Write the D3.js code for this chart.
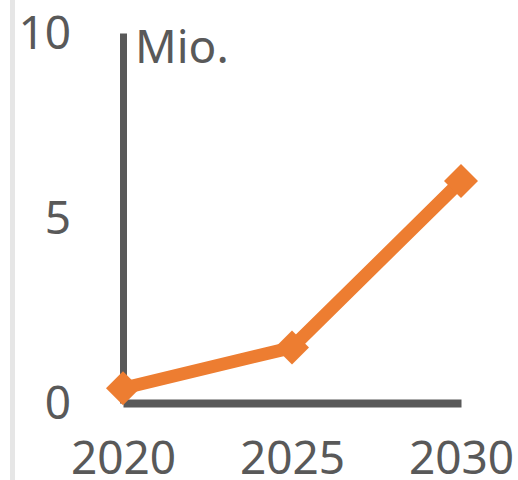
<!DOCTYPE html>
<html>
<head>
<meta charset="utf-8">
<script src="https://cdn.jsdelivr.net/npm/d3@7"></script>
<style>
  html, body { margin: 0; padding: 0; background: #ffffff; }
  svg { display: block; }
  text { font-family: "Noto Sans", sans-serif; }
</style>
</head>
<body>
<svg id="chart" width="518" height="480"></svg>
<script>
// Projected volume, in millions
const years = [2020, 2025, 2030];
const values = [0.4, 1.5, 6.0];
const yTicks = [0, 5, 10];
const unitLabel = "Mio.";

const svg = d3.select("#chart");
const axisColor = "#595959";
const lineColor = "#ED7D31";
const fontSize = 46;

// thin grey frame line along the left edge
svg.append("rect")
  .attr("x", 10).attr("y", 0)
  .attr("width", 5).attr("height", 480)
  .attr("fill", "#e6e6e6");

const x = d3.scaleLinear().domain([2020, 2030]).range([123, 461]);
const y = d3.scaleLinear().domain([0, 10]).range([403, 33]);

// y axis
const yAxis = svg.append("g")
  .attr("transform", `translate(${x(2020)},0)`)
  .call(d3.axisLeft(y).tickValues(yTicks).tickSize(0).tickSizeOuter(0).tickPadding(52).tickFormat(d3.format("d")));
yAxis.select(".domain").attr("stroke", axisColor).attr("stroke-width", 7);
yAxis.selectAll("text")
  .attr("fill", axisColor)
  .style("font-size", fontSize + "px")
  .attr("dy", "0.34em");

// x axis
const xAxis = svg.append("g")
  .attr("transform", `translate(0,${y(0)})`)
  .call(d3.axisBottom(x).tickValues(years).tickSize(0).tickSizeOuter(0).tickPadding(0).tickFormat(d3.format("d")));
xAxis.select(".domain").attr("stroke", axisColor).attr("stroke-width", 8);
xAxis.selectAll("text")
  .attr("fill", axisColor)
  .style("font-size", fontSize + "px")
  .attr("y", 71)
  .attr("dy", null);

// unit label next to the top of the y axis
svg.append("text")
  .attr("x", x(2020) + 12)
  .attr("y", 63)
  .attr("fill", axisColor)
  .style("font-size", fontSize + "px")
  .text(unitLabel);

// data line
const data = years.map((yr, i) => ({ year: yr, value: values[i] }));
svg.append("path")
  .datum(data)
  .attr("fill", "none")
  .attr("stroke", lineColor)
  .attr("stroke-width", 13)
  .attr("d", d3.line().x(d => x(d.year)).y(d => y(d.value)));

// diamond markers
svg.selectAll(".marker")
  .data(data)
  .join("path")
  .attr("class", "marker")
  .attr("fill", lineColor)
  .attr("transform", d => `translate(${x(d.year)},${y(d.value)}) rotate(45)`)
  .attr("d", d3.symbol().type(d3.symbolSquare).size(24 * 24)());
</script>
</body>
</html>
